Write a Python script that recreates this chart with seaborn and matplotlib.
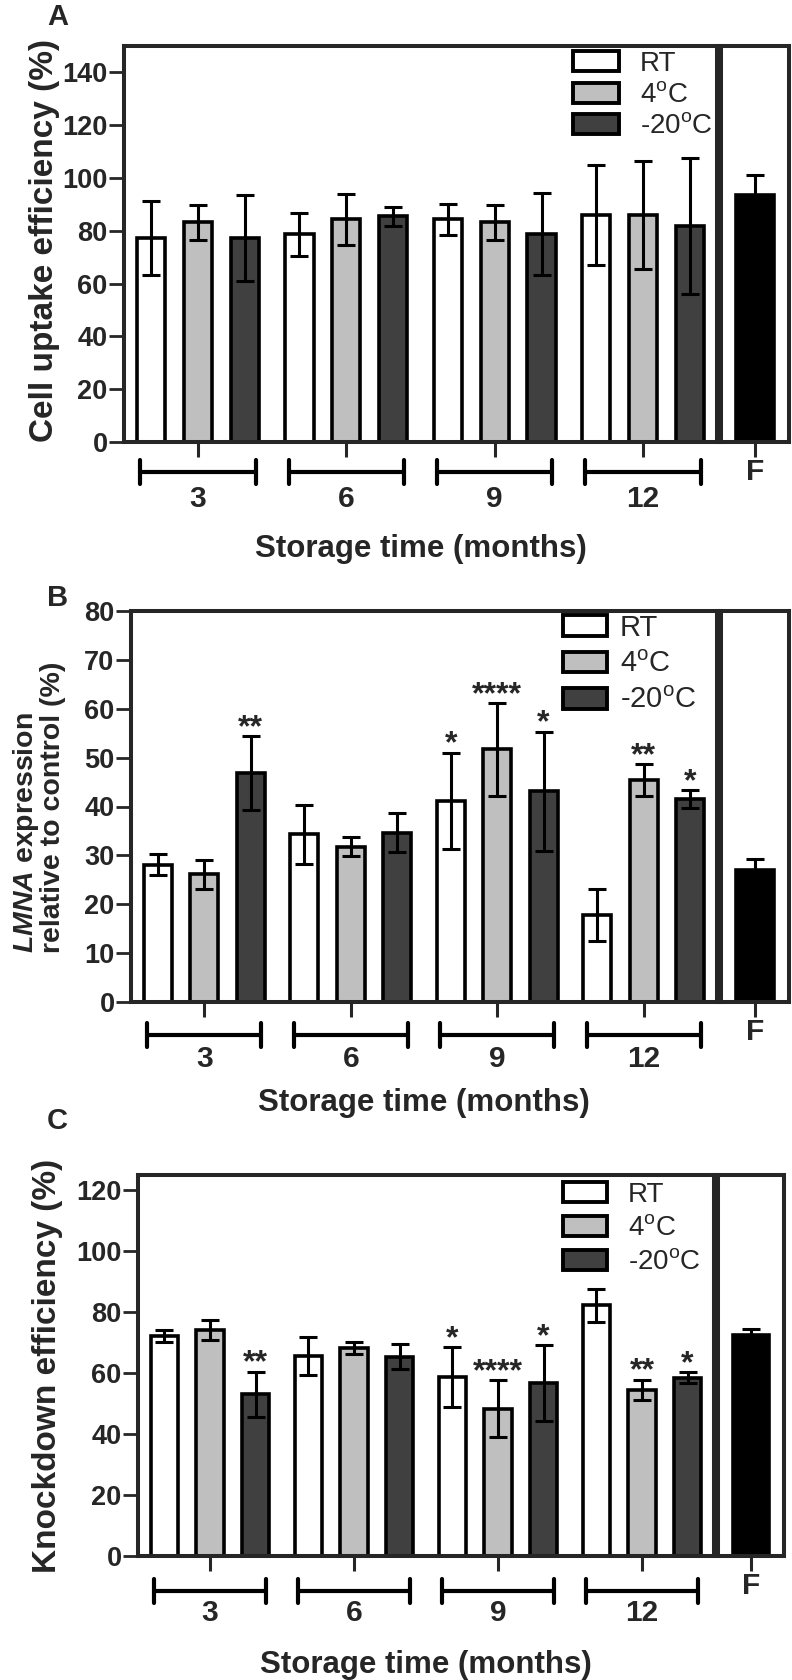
import numpy as np
import pandas as pd
import seaborn as sns
import matplotlib.pyplot as plt
from matplotlib.patches import Patch
from matplotlib.transforms import ScaledTranslation

# ---- data ----
times = ["3", "6", "9", "12"]
conds = ["RT", "4C", "-20C"]
cond_labels = ["RT", r"4$^{\mathrm{o}}$C", r"-20$^{\mathrm{o}}$C"]
cond_colors = ["white", "#bfbfbf", "#404040"]

# A: cell uptake efficiency (%)
uptake_rt = [77.3, 78.7, 84.3, 85.9]
uptake_rt_sd = [14.0, 8.2, 6.0, 19.0]
uptake_4c = [83.2, 84.3, 83.2, 85.9]
uptake_4c_sd = [6.7, 9.6, 6.6, 20.5]
uptake_m20 = [77.1, 85.5, 78.8, 81.8]
uptake_m20_sd = [16.3, 3.7, 15.4, 25.7]
uptake_f, uptake_f_sd = 93.5, 7.5

# B: LMNA expression relative to control (%)
lmna_rt = [28.1, 34.3, 41.2, 17.8]
lmna_rt_sd = [2.2, 6.0, 9.8, 5.3]
lmna_4c = [26.1, 31.8, 51.7, 45.4]
lmna_4c_sd = [2.9, 1.9, 9.5, 3.2]
lmna_m20 = [46.8, 34.6, 43.1, 41.5]
lmna_m20_sd = [7.6, 4.0, 12.2, 1.8]
lmna_f, lmna_f_sd = 27.1, 2.2

# C: knockdown efficiency (%)
kd_rt = [72.2, 65.7, 58.8, 82.2]
kd_rt_sd = [1.9, 6.2, 9.8, 5.4]
kd_4c = [74.1, 68.2, 48.3, 54.6]
kd_4c_sd = [3.2, 1.9, 9.3, 3.3]
kd_m20 = [53.1, 65.4, 56.8, 58.5]
kd_m20_sd = [7.4, 4.1, 12.4, 1.9]
kd_f, kd_f_sd = 72.5, 2.1

# significance marks (same for B and C)
stars_rt = ["", "", "*", ""]
stars_4c = ["", "", "****", "**"]
stars_m20 = ["**", "", "*", "*"]

sns.set_style("ticks")
plt.rcParams["font.family"] = ["Liberation Sans", "DejaVu Sans"]
plt.rcParams["font.weight"] = "bold"
plt.rcParams["mathtext.fontset"] = "custom"
plt.rcParams["mathtext.rm"] = "Liberation Sans:weight=normal"
plt.rcParams["mathtext.bfit"] = "Liberation Sans:style=italic:weight=bold"

W, H = 792, 1680
fig = plt.figure(figsize=(W / 100, H / 100), dpi=100)


def box(x0, y0, x1, y1):
    return [x0 / W, 1 - y1 / H, (x1 - x0) / W, (y1 - y0) / H]


def make_df(rt, rt_sd, c4, c4_sd, m20, m20_sd):
    return pd.DataFrame({
        "time": times * 3,
        "cond": [c for c in conds for _ in times],
        "val": rt + c4 + m20,
        "sd": rt_sd + c4_sd + m20_sd,
    })


def panel(df, fval, fsd, main_box, f_box, ymax, ystep, stars, br_off, leg):
    ax = fig.add_axes(box(*main_box))
    axf = fig.add_axes(box(*f_box))
    ax_h = main_box[3] - main_box[1]

    sns.barplot(data=df, x="time", y="val", hue="cond", order=times,
                hue_order=conds, palette=cond_colors, width=0.95, gap=0.4,
                edgecolor="black", linewidth=2.6, errorbar=None,
                legend=False, ax=ax)
    bar_conts = list(ax.containers)
    for i, cont in enumerate(bar_conts):
        sub = df[df["cond"] == conds[i]]
        xs = [p.get_x() + p.get_width() / 2 for p in cont]
        ys = sub["val"].values
        sds = sub["sd"].values
        ax.errorbar(xs, ys, yerr=sds, fmt="none", ecolor="black",
                    elinewidth=2.2, capsize=6.5, capthick=2.2, zorder=5)
        if stars is not None:
            for x, y, s, st in zip(xs, ys, sds, stars[i]):
                if st:
                    ax.annotate(st, xy=(x, y + s), xytext=(0, 0),
                                textcoords="offset points", ha="center",
                                va="baseline", fontsize=23, fontweight="bold")

    ax.set_xlim(-0.5, 3.5)
    ax.set_ylim(0, ymax)
    ax.set_yticks(np.arange(0, ymax + 0.1 if ymax % ystep == 0 else ymax, ystep))
    ax.set_xlabel("")
    ax.set_ylabel("")
    ax.tick_params(axis="y", length=10.8, width=2, labelsize=19.5, pad=1)
    ax.tick_params(axis="x", length=10.8, width=2.2, labelsize=21.5, pad=20)
    for sp in ax.spines.values():
        sp.set_visible(True)
        sp.set_linewidth(2.9)

    # group brackets under the axis
    tr = ax.get_xaxis_transform() + ScaledTranslation(0, -br_off / 100, fig.dpi_scale_trans)
    cap = 12 / ax_h
    for k in range(len(times)):
        ax.plot([k - 0.39, k + 0.39], [0, 0], color="black", lw=3,
                transform=tr, clip_on=False, solid_capstyle="butt")
        for xe in (k - 0.39, k + 0.39):
            ax.plot([xe, xe], [cap, -cap], color="black", lw=3,
                    transform=tr, clip_on=False, solid_capstyle="round")

    # fresh control panel
    sns.barplot(x=["F"], y=[fval], color="black", width=0.55,
                edgecolor="black", linewidth=2.6, ax=axf)
    axf.errorbar([0], [fval], yerr=[fsd], fmt="none", ecolor="black",
                 elinewidth=2.2, capsize=6.5, capthick=2.2, zorder=5)
    axf.set_xlim(-0.5, 0.5)
    axf.set_ylim(0, ymax)
    axf.set_yticks([])
    axf.set_xlabel("")
    axf.set_ylabel("")
    axf.tick_params(axis="x", length=10.8, width=2.2, labelsize=21.5, pad=1)
    for sp in axf.spines.values():
        sp.set_visible(True)
        sp.set_linewidth(2.9)

    handles = [Patch(facecolor=c, edgecolor="black", linewidth=2.8)
               for c in cond_colors]
    fig.legend(handles, cond_labels, loc="upper left",
               bbox_to_anchor=(leg[0] / W, 1 - leg[1] / H), frameon=False,
               prop={"weight": "normal", "size": leg[2]},
               handlelength=leg[4], handleheight=0.72, handletextpad=leg[5],
               labelspacing=leg[3], borderpad=0, borderaxespad=0)
    return ax


# A
df_a = make_df(uptake_rt, uptake_rt_sd, uptake_4c, uptake_4c_sd, uptake_m20, uptake_m20_sd)
ax_a = panel(df_a, uptake_f, uptake_f_sd, (124, 46, 717, 442), (721, 46, 789, 442),
             150, 20, None, 30, (573, 51, 20, 0.2, 1.65, 0.75))
# B
df_b = make_df(lmna_rt, lmna_rt_sd, lmna_4c, lmna_4c_sd, lmna_m20, lmna_m20_sd)
ax_b = panel(df_b, lmna_f, lmna_f_sd, (131, 611, 717, 1002), (721, 611, 789, 1002),
             80, 10, [stars_rt, stars_4c, stars_m20], 33, (563, 614, 21, 0.28, 1.5, 0.45))
# C
df_c = make_df(kd_rt, kd_rt_sd, kd_4c, kd_4c_sd, kd_m20, kd_m20_sd)
ax_c = panel(df_c, kd_f, kd_f_sd, (138, 1175, 714, 1556), (718, 1175, 784, 1556),
             125, 20, [stars_rt, stars_4c, stars_m20], 35, (563, 1182, 20, 0.28, 1.58, 0.75))

# axis titles
for ax, off in ((ax_a, 77), (ax_b, 72.7), (ax_c, 78.5)):
    ax.annotate("Storage time (months)", xy=(0.5, 0), xycoords="axes fraction",
                xytext=(0, -off), textcoords="offset points", ha="center",
                va="center", fontsize=22.5, fontweight="bold")

fig.text(45 / W, 1 - 241 / H, "Cell uptake efficiency (%)", rotation=90,
         ha="center", va="center", fontsize=24, fontweight="bold")
fig.text(26 / W, 1 - 953 / H, "$\\mathbfit{LMNA}$ expression", rotation=90,
         ha="center", va="bottom", fontsize=20.5, fontweight="bold")
fig.text(53 / W, 1 - 953 / H, "relative to control (%)", rotation=90,
         ha="center", va="bottom", fontsize=20.5, fontweight="bold")
fig.text(48 / W, 1 - 1366 / H, "Knockdown efficiency (%)", rotation=90,
         ha="center", va="center", fontsize=24, fontweight="bold")

# panel letters
for letter, ytop in (("A", 3), ("B", 584), ("C", 1107)):
    fig.text(47 / W, 1 - ytop / H, letter, ha="left", va="top",
             fontsize=21, fontweight="bold")

fig.savefig("out.png", dpi=100)
